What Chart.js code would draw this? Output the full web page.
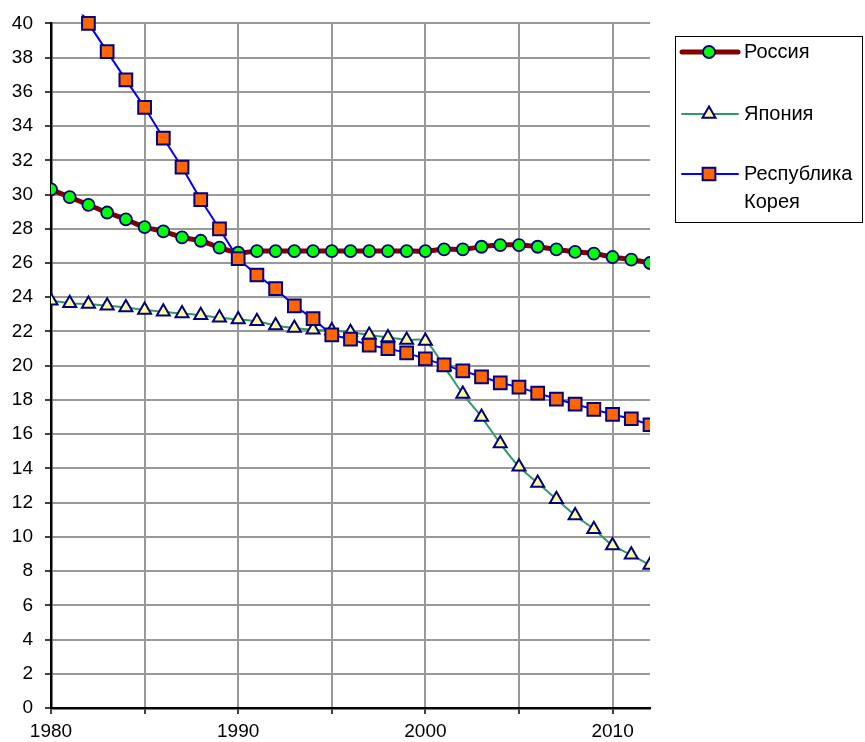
<!DOCTYPE html>
<html>
<head>
<meta charset="utf-8">
<script src="https://cdn.jsdelivr.net/npm/chart.js@4/dist/chart.umd.min.js"></script>
<style>
  html, body { margin: 0; padding: 0; background: #fff; }
  #wrap { width: 865px; height: 742px; }
</style>
</head>
<body>
<div id="wrap"><canvas id="chartData" width="865" height="742"></canvas></div>
<script>
    // years on the x axis
    const years = [1980, 1981, 1982, 1983, 1984, 1985, 1986, 1987, 1988, 1989,
        1990, 1991, 1992, 1993, 1994, 1995, 1996, 1997, 1998, 1999,
        2000, 2001, 2002, 2003, 2004, 2005, 2006, 2007, 2008, 2009,
        2010, 2011, 2012
    ];

    const seriesNames = ["Россия", "Япония", "Республика Корея"];

    const russia = [30.3, 29.85, 29.4, 28.95, 28.55, 28.1, 27.85, 27.5, 27.3, 26.9,
        26.6, 26.7, 26.7, 26.7, 26.7, 26.7, 26.7, 26.7, 26.7, 26.7,
        26.7, 26.8, 26.8, 26.95, 27.05, 27.05, 26.95, 26.8, 26.65, 26.55,
        26.35, 26.2, 26.0
    ];

    const japan = [23.8, 23.65, 23.6, 23.5, 23.4, 23.25, 23.15, 23.05, 22.95, 22.8,
        22.7, 22.6, 22.35, 22.2, 22.1, 22.05, 21.95, 21.8, 21.65, 21.5,
        21.45, 19.95, 18.35, 17.0, 15.45, 14.1, 13.15, 12.2, 11.25, 10.45,
        9.5, 8.95, 8.35
    ];

    const korea = [43.3, 41.65, 40.0, 38.35, 36.7, 35.1, 33.3, 31.6, 29.7, 28.0,
        26.25, 25.3, 24.5, 23.5, 22.75, 21.8, 21.55, 21.2, 21.0, 20.75,
        20.4, 20.05, 19.7, 19.35, 19.0, 18.75, 18.4, 18.05, 17.75, 17.45,
        17.15, 16.9, 16.55
    ];

    const yTicksMax = 40;
    const xLabelEvery = 10;

    const toPoints = arr => arr.map((v, i) => ({ x: years[i], y: v }));

    const FONT = "'Liberation Sans', Arial, sans-serif";

    // legend drawn on the canvas, Excel style box on the right
    const boxLegend = {
        id: "boxLegend",
        afterDraw(chart) {
            const c = chart.ctx;
            c.save();
            c.strokeStyle = "#000";
            c.lineWidth = 1;
            c.strokeRect(675.5, 36.5, 187, 186);
            const rows = [{ y: 52, lines: ["Россия"] }, { y: 114, lines: ["Япония"] }, { y: 174, lines: ["Республика", "Корея"] }];
            chart.data.datasets.forEach((ds, i) => {
                const y = rows[i].y;
                c.strokeStyle = ds.borderColor;
                c.lineWidth = ds.borderWidth;
                c.lineCap = "round";
                c.beginPath();
                c.moveTo(682, y);
                c.lineTo(738, y);
                c.stroke();
                c.fillStyle = ds.pointBackgroundColor;
                c.strokeStyle = ds.pointBorderColor;
                c.lineWidth = ds.pointBorderWidth;
                Chart.helpers.drawPoint(c, {
                    pointStyle: ds.pointStyle,
                    rotation: 0,
                    radius: ds.pointRadius,
                    borderWidth: ds.pointBorderWidth
                }, 709, y);
                c.fillStyle = "#000";
                c.font = "20px " + FONT;
                c.textBaseline = "middle";
                rows[i].lines.forEach((t, k) => c.fillText(t, 744, y + k * 28));
            });
            c.restore();
        }
    };

    new Chart(document.getElementById("chartData"), {
        type: "line",
        data: {
            datasets: [{
                    label: seriesNames[0],
                    data: toPoints(russia),
                    borderColor: "#800000",
                    borderWidth: 5,
                    tension: 0.3,
                    pointStyle: "circle",
                    pointRadius: 6,
                    pointBackgroundColor: "#00ff00",
                    pointBorderColor: "#000080",
                    pointBorderWidth: 1.8,
                    order: 2
                },
                {
                    label: seriesNames[1],
                    data: toPoints(japan),
                    borderColor: "#339966",
                    borderWidth: 2,
                    tension: 0.3,
                    pointStyle: "triangle",
                    pointRadius: 7.5,
                    pointBackgroundColor: "#ffff99",
                    pointBorderColor: "#000080",
                    pointBorderWidth: 2,
                    order: 1
                },
                {
                    label: seriesNames[2],
                    data: toPoints(korea),
                    borderColor: "#0000ff",
                    borderWidth: 2,
                    tension: 0,
                    pointStyle: "rect",
                    pointRadius: 9,
                    pointBackgroundColor: "#ff6600",
                    pointBorderColor: "#000080",
                    pointBorderWidth: 2,
                    order: 0,
                    clip: { left: 0, top: 9, right: 0, bottom: 0 }
                },
            ],
        },
        options: {
            responsive: false,
            animation: false,
            layout: { padding: { top: 23, right: 215, left: 0, bottom: 0 } },
            plugins: { legend: { display: false }, tooltip: { enabled: false } },
            scales: {
                x: {
                    type: "linear",
                    min: 1980,
                    max: 2012,
                    afterBuildTicks: s => { s.ticks = years.filter(y => y % 5 === 0).map(v => ({ value: v })); },
                    ticks: {
                        color: "#000",
                        font: { family: FONT, size: 19 },
                        padding: 6,
                        maxRotation: 0,
                        autoSkip: false,
                        callback: v => (v % xLabelEvery === 0 ? String(v) : "")
                    },
                    grid: { color: "#999", lineWidth: 2, tickColor: "#000", tickLength: 6, tickWidth: 1.5 },
                    border: { color: "#000", width: 2.5 },
                    afterFit: s => { s.height = 34; }
                },
                y: {
                    min: 0,
                    max: yTicksMax,
                    ticks: {
                        stepSize: 2,
                        color: "#000",
                        font: { family: FONT, size: 19 },
                        padding: 12
                    },
                    grid: { color: "#999", lineWidth: 2, tickColor: "#000", tickLength: 6, tickWidth: 1.5 },
                    border: { color: "#000", width: 2.5 },
                    afterFit: s => { s.width = 51; }
                },
            },
        },
        plugins: [boxLegend]
    });
</script>
</body>
</html>
